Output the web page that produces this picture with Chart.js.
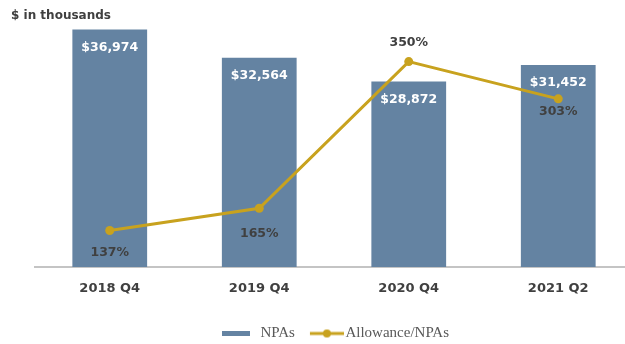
<!DOCTYPE html>
<html lang="en">
<head>
  <meta charset="UTF-8" />
  <title>NPAs and Allowance/NPAs</title>
  <script src="https://cdn.jsdelivr.net/npm/chart.js@4.4.0/dist/chart.umd.min.js"></script>
  <style>
    html, body {
      margin: 0;
      padding: 0;
      background: #fff;
      overflow: hidden;
    }
    #wrap {
      position: relative;
      width: 640px;
      height: 351px;
    }
  </style>
</head>
<body>
  <div id="wrap"><canvas id="npaChart"></canvas></div>

  <script>
    // quarters and values ($ in thousands / percent)
    const periods = ["2018 Q4", "2019 Q4", "2020 Q4", "2021 Q2"];
    const npas = [36974, 32564, 28872, 31452];
    const allowancePct = [137, 165, 350, 303];

    const BAR_BLUE = "#6483a2";
    const GOLD = "#c8a21e";
    const TEXT_DARK = "#404040";

    // vertical offsets of the percent labels from their points
    const pctLabelDy = [22, 25, -19, 13];

    // legend swatches
    function barSwatch() {
      const c = document.createElement("canvas");
      c.width = 28; c.height = 5;
      const g = c.getContext("2d");
      g.fillStyle = BAR_BLUE;
      g.fillRect(0, 0, 28, 5);
      return c;
    }
    function lineSwatch() {
      const c = document.createElement("canvas");
      c.width = 46; c.height = 10;
      const g = c.getContext("2d");
      g.strokeStyle = GOLD;
      g.lineWidth = 3;
      g.beginPath();
      g.moveTo(12, 5);
      g.lineTo(46, 5);
      g.stroke();
      g.fillStyle = GOLD;
      g.beginPath();
      g.arc(29, 5, 4, 0, Math.PI * 2);
      g.fill();
      return c;
    }

    const valueLabels = {
      id: "valueLabels",
      afterDatasetsDraw(chart) {
        const ctx = chart.ctx;
        ctx.save();
        ctx.textAlign = "center";
        ctx.textBaseline = "middle";
        ctx.font = "bold 12.5px 'DejaVu Sans'";

        chart.getDatasetMeta(1).data.forEach((bar, i) => {
          ctx.fillStyle = "#ffffff";
          ctx.fillText("$" + npas[i].toLocaleString("en-US"), bar.x, bar.y + 18);
        });
        chart.getDatasetMeta(0).data.forEach((pt, i) => {
          ctx.fillStyle = TEXT_DARK;
          ctx.fillText(allowancePct[i] + "%", pt.x, pt.y + pctLabelDy[i]);
        });

        // units note, top left
        ctx.textAlign = "left";
        ctx.font = "bold 12px 'DejaVu Sans'";
        ctx.fillStyle = TEXT_DARK;
        ctx.fillText("$ in thousands", 11, 16);
        ctx.restore();
      }
    };

    new Chart(document.getElementById("npaChart"), {
      type: "bar",
      data: {
        labels: periods,
        datasets: [
          {
            type: "line",
            label: "Allowance/NPAs",
            data: allowancePct,
            yAxisID: "y2",
            borderColor: GOLD,
            backgroundColor: GOLD,
            borderWidth: 3,
            pointRadius: 4.5,
            pointBorderWidth: 0,
            pointBackgroundColor: GOLD,
            tension: 0
          },
          {
            label: "NPAs",
            data: npas,
            yAxisID: "y",
            backgroundColor: BAR_BLUE,
            borderWidth: 0,
            barPercentage: 0.5,
            categoryPercentage: 1
          }
        ]
      },
      options: {
        responsive: true,
        maintainAspectRatio: false,
        animation: false,
        devicePixelRatio: 1,
        layout: { padding: { left: 35, right: 7, top: 10, bottom: 0 } },
        scales: {
          x: {
            offset: true,
            grid: { display: true, color: "rgba(0,0,0,0)", drawTicks: false, drawOnChartArea: false },
            border: { display: true, color: "#c4c4c4", width: 2 },
            ticks: {
              color: TEXT_DARK,
              font: { family: "'DejaVu Sans'", size: 13, weight: "bold" },
              padding: 14
            },
            afterFit(scale) { scale.height = 50; }
          },
          y: { display: false, min: 0, max: 40000 },
          y2: { display: false, min: 91, max: 415 }
        },
        plugins: {
          tooltip: { enabled: false },
          legend: {
            position: "bottom",
            labels: {
              usePointStyle: true,
              pointStyleWidth: 34,
              padding: 9,
              color: "#595959",
              font: { family: "'Liberation Serif'", size: 15 },
              generateLabels(chart) {
                return [
                  { text: "NPAs", datasetIndex: 1, pointStyle: barSwatch(), fontColor: "#595959", lineWidth: 0, hidden: false },
                  { text: "Allowance/NPAs", datasetIndex: 0, pointStyle: lineSwatch(), fontColor: "#595959", lineWidth: 0, hidden: false }
                ];
              }
            }
          }
        }
      },
      plugins: [valueLabels]
    });
  </script>
</body>
</html>
